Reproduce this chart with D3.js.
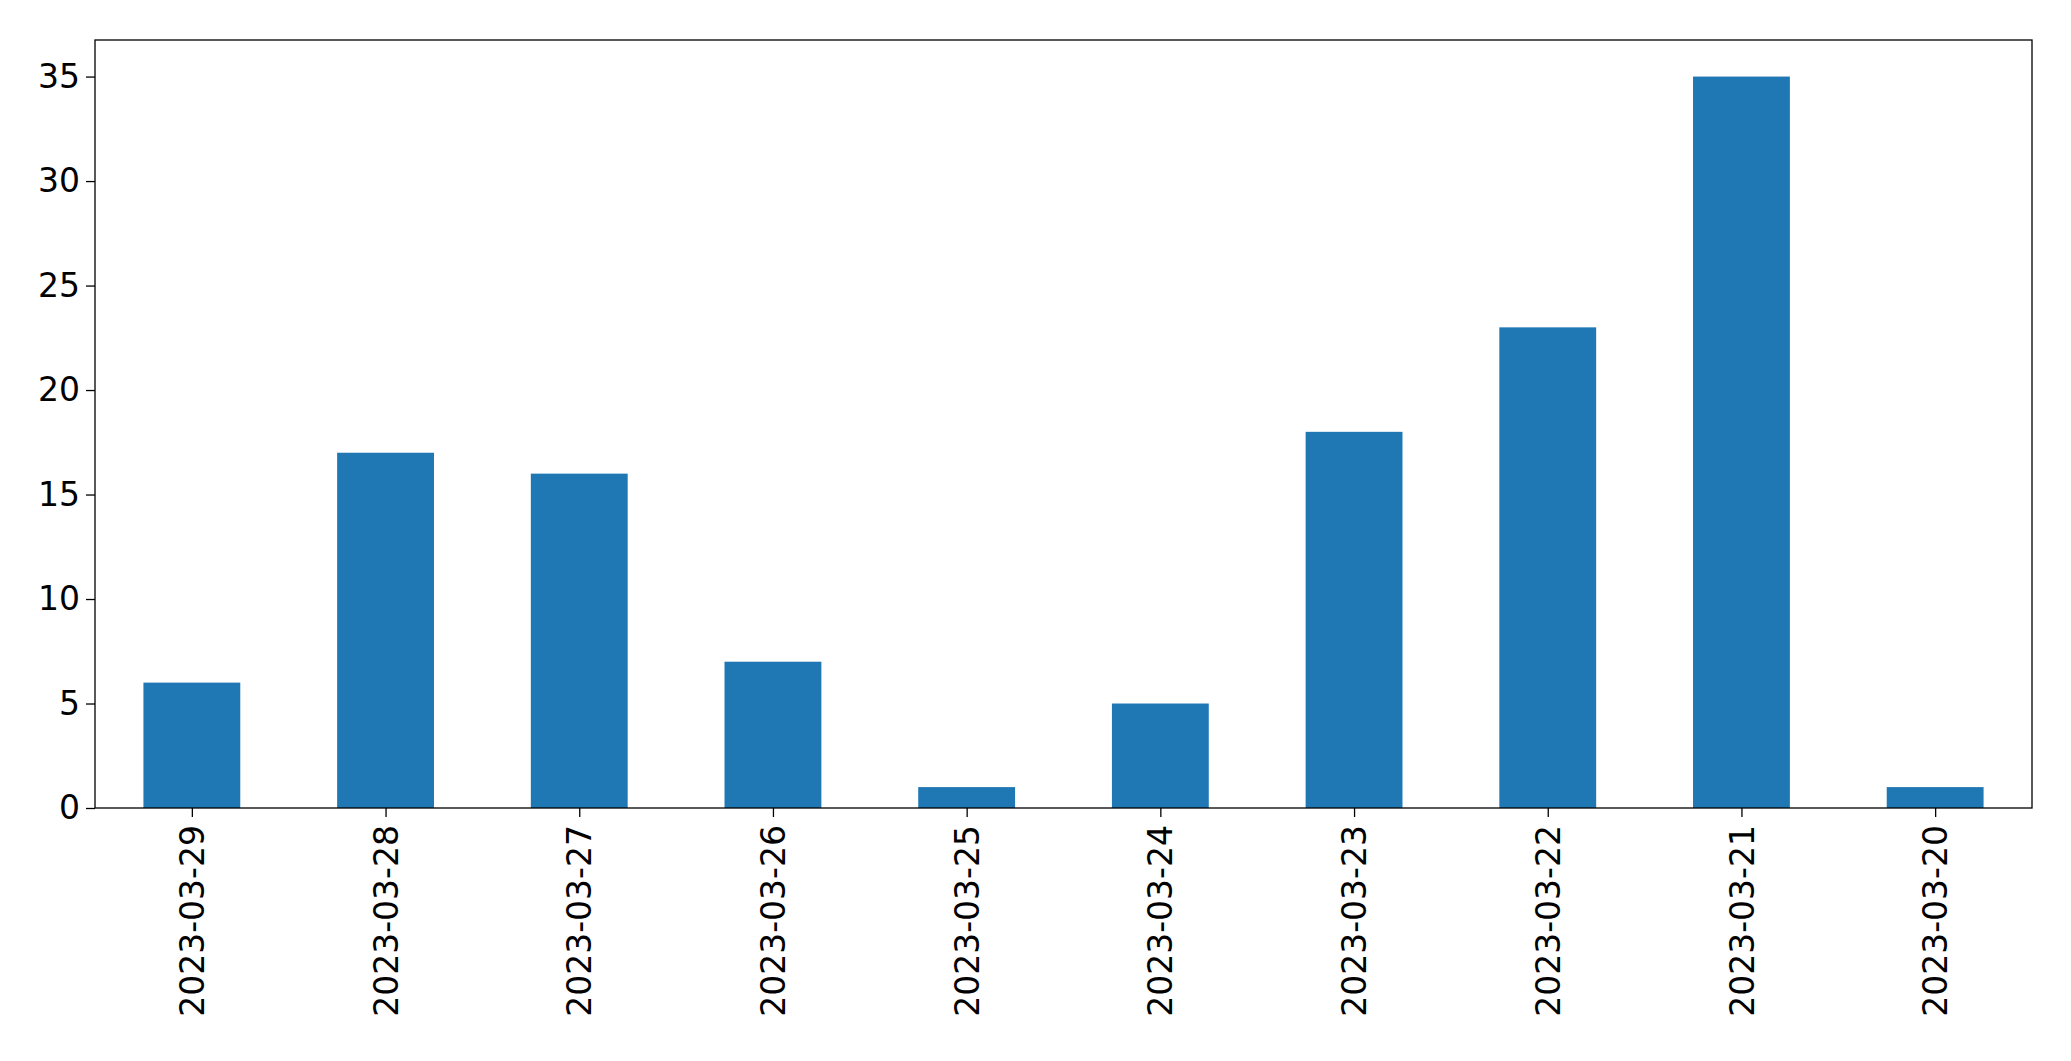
<!DOCTYPE html><html><head><meta charset="utf-8"><script src="https://cdn.jsdelivr.net/npm/d3@7"></script>
<style>body{margin:0;background:#fff}svg text{font-family:"DejaVu Sans",sans-serif}</style></head><body><svg id="c" width="2071" height="1061"></svg><script>
const categories=["2023-03-29","2023-03-28","2023-03-27","2023-03-26","2023-03-25","2023-03-24","2023-03-23","2023-03-22","2023-03-21","2023-03-20"];
const values=[6,17,16,7,1,5,18,23,35,1];
const yTicks=[0,5,10,15,20,25,30,35];
const L=95,R=2032,T=40,B=808;
const svg=d3.select("#c");
const x=d3.scaleLinear().domain([-0.5,categories.length-0.5]).range([L,R]);
const y=d3.scaleLinear().domain([0,36.75]).range([B,T]);
svg.selectAll("rect.bar").data(values).join("rect").attr("class","bar")
 .attr("x",(d,i)=>x(i-0.25)).attr("width",(d,i)=>x(i+0.25)-x(i-0.25))
 .attr("y",d=>y(d)).attr("height",d=>B-y(d)).attr("fill","#1f77b4");
const ya=svg.append("g").attr("transform",`translate(${L},0)`).call(d3.axisLeft(y).tickValues(yTicks).tickSize(9).tickPadding(6));
ya.selectAll("text").attr("font-size",33).attr("fill","#000");
const xa=svg.append("g").attr("transform",`translate(0,${B})`).call(d3.axisBottom(x).tickValues(d3.range(categories.length)).tickFormat(i=>categories[i]).tickSize(9));
xa.selectAll("text").attr("font-size",33).attr("fill","#000").attr("transform","rotate(-90)").attr("text-anchor","end").attr("x",-17).attr("y",0).attr("dy","0.35em");
[ya,xa].forEach(a=>{a.select(".domain").remove();a.selectAll("line").attr("stroke","#000").attr("stroke-width",1.3);});
svg.append("rect").attr("x",L).attr("y",T).attr("width",R-L).attr("height",B-T).attr("fill","none").attr("stroke","#000").attr("stroke-width",1.3);
</script></body></html>
